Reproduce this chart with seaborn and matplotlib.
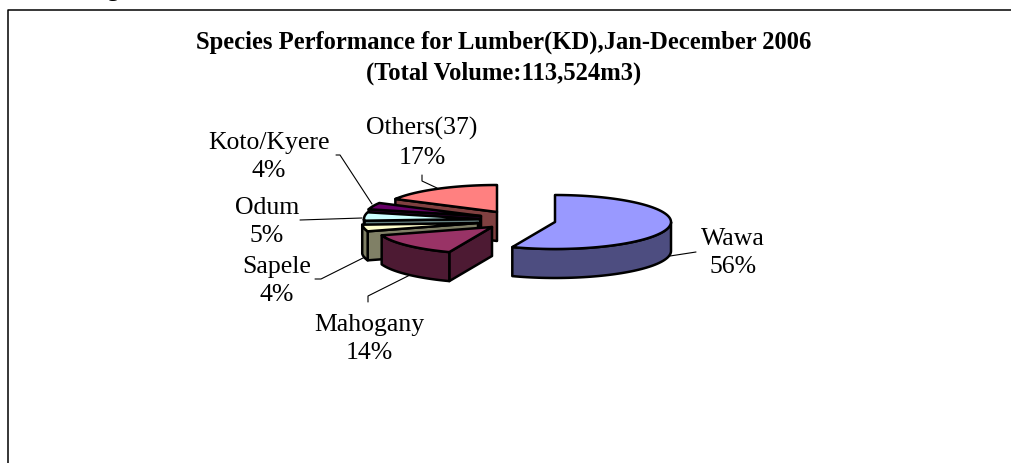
import numpy as np
import matplotlib
matplotlib.use("Agg")
import matplotlib.pyplot as plt
from matplotlib.patches import Polygon
import seaborn as sns

sns.set_theme(style="white")
plt.rcParams['font.family'] = ['Liberation Serif', 'DejaVu Serif']

# data, clockwise from 12 o'clock
species = ['Wawa', 'Mahogany', 'Sapele', 'Odum', 'Koto/Kyere', 'Others(37)']
shares = [56, 14, 4, 5, 4, 17]
title = 'Species Performance for Lumber(KD),Jan-December 2006\n(Total Volume:113,524m3)'

pal = sns.color_palette(['#9999FF', '#993366', '#FFFFCC', '#CCFFFF', '#660066', '#FF8080'])

# layout, in pixels of the 1012x464 image
rx, ry, depth = 116, 27, 29
apex_x = [555, 492, 478, 480, 481, 497]
apex_y = [223, 228, 224, 220, 217, 213]
label_xy = [(733, 253), (369, 339), (277, 281), (267, 222), (269, 157), (422, 143)]
leaders = [[(696, 253), (670, 257)],
           [(368, 303), (368, 297), (410, 276)],
           [(315, 280), (321, 280), (365, 258)],
           [(300, 221), (362, 219)],
           [(336, 156), (340, 156), (372, 205)],
           [(422, 176), (422, 182), (437, 189)]]
paint_order = [5, 4, 3, 2, 1, 0]

f, ax = plt.subplots(figsize=(10.12, 4.64), dpi=100)
ax.set_position([0, 0, 1, 1])
ax.set_xlim(0, 1012)
ax.set_ylim(464, 0)
ax.axis('off')

# frame: only the top and left edges fall inside the crop
ax.plot([8, 8, 1012], [464, 11, 11], color='black', linewidth=1.1)
# tail of a letter from the line above the chart, cut by the crop
ax.text(113, -4, 'g', ha='center', va='baseline', fontsize=18, color='black', clip_on=True)


def edge_point(i, a):
    return apex_x[i] + rx * np.sin(a), apex_y[i] - ry * np.cos(a)


def face(points, color, z):
    ax.add_patch(Polygon(points, closed=True, facecolor=color, edgecolor='black',
                         linewidth=1.8, joinstyle='round', zorder=z))


ends = np.cumsum(shares) / sum(shares) * 2 * np.pi
starts = np.concatenate([[0], ends[:-1]])

for z, i in enumerate(paint_order):
    a0, a1 = starts[i], ends[i]
    side = tuple(c * 0.5 for c in pal[i])
    base = 10 + z * 5
    apex = (apex_x[i], apex_y[i])

    # cut faces that look towards the viewer
    if np.sin(a0) < -1e-6:
        p = edge_point(i, a0)
        face([apex, p, (p[0], p[1] + depth), (apex[0], apex[1] + depth)], side, base)
    if np.sin(a1) > 1e-6:
        p = edge_point(i, a1)
        face([apex, p, (p[0], p[1] + depth), (apex[0], apex[1] + depth)], side, base)

    # outer wall, front half of the rim only
    lo, hi = max(a0, np.pi / 2), min(a1, 3 * np.pi / 2)
    if hi > lo:
        t = np.linspace(lo, hi, 60)
        x, y = edge_point(i, t)
        wall = list(zip(x, y)) + list(zip(x[::-1], y[::-1] + depth))
        face(wall, side, base + 1)

    # top
    t = np.linspace(a0, a1, 120)
    x, y = edge_point(i, t)
    face([apex] + list(zip(x, y)), pal[i], base + 2)

for i in range(len(species)):
    xs, ys = zip(*leaders[i])
    ax.plot(xs, ys, color='black', linewidth=0.8, zorder=60)
    ax.text(label_xy[i][0], label_xy[i][1], f'{species[i]}\n{shares[i]}%', ha='center', va='center',
            fontsize=18.5, color='black', linespacing=1.36, zorder=70)

ax.text(504, 58, title, ha='center', va='center', fontsize=17.7, fontweight='bold',
        color='black', linespacing=1.42)

f.savefig('out.png', dpi=100)
